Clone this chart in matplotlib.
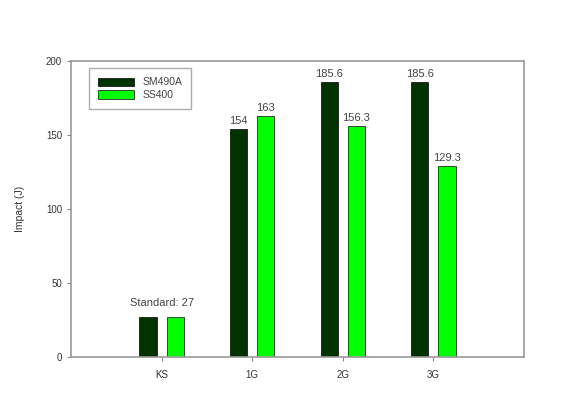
import matplotlib
matplotlib.use("Agg")
import matplotlib.pyplot as plt
import numpy as np

categories = ["KS", "1G", "2G", "3G"]
sm490a = [27, 154, 185.6, 185.6]
ss400 = [27, 163, 156.3, 129.3]
sm490a_labels = [None, "154", "185.6", "185.6"]
ss400_labels = [None, "163", "156.3", "129.3"]
standard_text = "Standard: 27"

plt.rcParams['font.family'] = ['Liberation Sans', 'DejaVu Sans']

fig = plt.figure(figsize=(5.77, 3.96), dpi=100)
ax = fig.add_axes([71/577, 1 - 357/396, (524-71)/577, (357-61)/396])

x = np.arange(len(categories))
w = 0.19
off = 0.15
dark = "#003300"
light = "#00ff00"
ax.bar(x - off, sm490a, w, color=dark, edgecolor="#1a1a1a", linewidth=0.6, label="SM490A")
ax.bar(x + off, ss400, w, color=light, edgecolor="#2a2a2a", linewidth=0.6, label="SS400")

for xi, v, t in zip(x - off, sm490a, sm490a_labels):
    if t:
        ax.text(xi, v + 2, t, ha="center", va="bottom", fontsize=8, color="#444444")
for xi, v, t in zip(x + off, ss400, ss400_labels):
    if t:
        ax.text(xi, v + 2, t, ha="center", va="bottom", fontsize=8, color="#444444")
ax.text(0, 33, standard_text, ha="center", va="bottom", fontsize=8, color="#444444")

ax.set_xlim(-1, 4)
ax.set_ylim(0, 200)
ax.set_yticks([0, 50, 100, 150, 200])
ax.set_xticks(x)
ax.set_xticklabels(categories)
ax.tick_params(axis="both", labelsize=7, color="#888888", labelcolor="#333333", length=3, width=0.8, direction="out")
ax.tick_params(axis="x", pad=6)
for s in ax.spines.values():
    s.set_color("#999999")
    s.set_linewidth(1.2)
ax.set_ylabel("Impact (J)", fontsize=7.5, color="#333333", labelpad=15)

leg = ax.legend(loc="upper left", bbox_to_anchor=(0.04, 0.976), fontsize=7.5, frameon=True,
                fancybox=False, edgecolor="#999999", handlelength=3.4, handleheight=0.9,
                labelspacing=0.25, borderpad=0.9, handletextpad=0.8, borderaxespad=0)
leg.get_frame().set_linewidth(1.0)
for t in leg.get_texts():
    t.set_color("#444444")

fig.savefig("out.png", dpi=100)
